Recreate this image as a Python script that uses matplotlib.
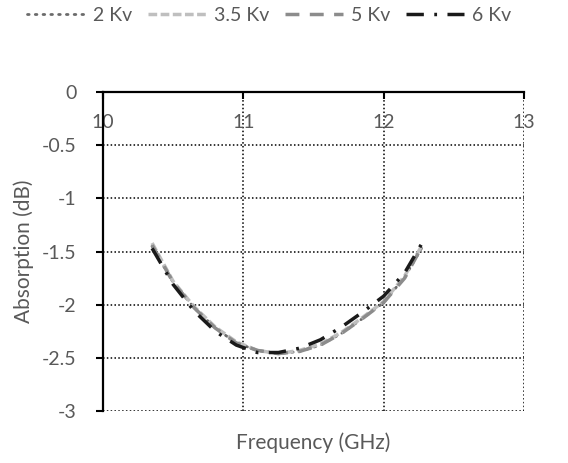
import matplotlib
matplotlib.use("Agg")
import matplotlib.pyplot as plt

freq = [10.35, 10.5, 10.65, 10.8, 10.95, 11.1, 11.25, 11.4, 11.55, 11.7, 11.85, 12.0, 12.15, 12.27]
kv2 = [-1.45, -1.79, -2.03, -2.22, -2.36, -2.43, -2.46, -2.44, -2.38, -2.27, -2.13, -1.98, -1.74, -1.47]
kv35 = [-1.42, -1.78, -2.02, -2.21, -2.35, -2.43, -2.46, -2.43, -2.37, -2.26, -2.12, -1.97, -1.73, -1.45]
kv5 = [-1.44, -1.79, -2.03, -2.22, -2.36, -2.43, -2.46, -2.44, -2.38, -2.27, -2.13, -1.98, -1.75, -1.46]
kv6 = [-1.47, -1.81, -2.06, -2.25, -2.38, -2.45, -2.45, -2.41, -2.33, -2.21, -2.07, -1.92, -1.70, -1.43]
labels = ["2 Kv", "3.5 Kv", "5 Kv", "6 Kv"]
xticks = [10, 11, 12, 13]
yticks = [0, -0.5, -1, -1.5, -2, -2.5, -3]

plt.rcParams['font.family'] = ['Lato', 'DejaVu Sans']
txt = '#595959'

fig = plt.figure(figsize=(5.68, 4.63), dpi=100)
ax = fig.add_axes([0.1813, 0.1123, 0.7412, 0.689])

styles = [
    dict(color='#6b6b6b', lw=2.0, linestyle=(0, (0.6, 2.2)), dash_capstyle='round'),
    dict(color='#bfbfbf', lw=2.5, linestyle=(0, (2.5, 1.0))),
    dict(color='#8c8c8c', lw=2.5, linestyle=(0, (4.0, 3.0))),
    dict(color='#1a1a1a', lw=2.5, linestyle=(0, (5, 3, 0.8, 3))),
]
for ys, lab, st in zip([kv2, kv35, kv5, kv6], labels, styles):
    ax.plot(freq, ys, label=lab, **st)

ax.set_xlim(10, 13)
ax.set_ylim(-3, 0)
ax.set_xticks(xticks)
ax.set_yticks(yticks)
ax.set_yticklabels(['0', '-0.5', '-1', '-1.5', '-2', '-2.5', '-3'])
ax.grid(True, color='black', linestyle=(0, (1, 1.5)), lw=1.1)
ax.set_axisbelow(True)

for s in ['right', 'bottom']:
    ax.spines[s].set_visible(False)
ax.spines['left'].set_linewidth(1.6)
ax.spines['top'].set_linewidth(1.6)

ax.xaxis.set_ticks_position('top')
ax.tick_params(axis='x', direction='in', length=5, width=1.5, labeltop=True,
               labelbottom=False, pad=-28, labelsize=14, labelcolor=txt)
ax.tick_params(axis='y', direction='out', length=5, width=1.5, labelsize=14,
               labelcolor=txt, pad=14)

ax.set_ylabel('Absorption (dB)', fontsize=15, color=txt, labelpad=6)
fig.text(0.552, 0.043, 'Frequency (GHz)', fontsize=15, color=txt, ha='center', va='center')

fig.legend(loc='center', bbox_to_anchor=(0.474, 0.967), ncol=4, frameon=False,
           fontsize=14, labelcolor=txt, handlelength=3.0, handletextpad=0.4,
           columnspacing=0.8)

fig.savefig('out.png', dpi=100)
